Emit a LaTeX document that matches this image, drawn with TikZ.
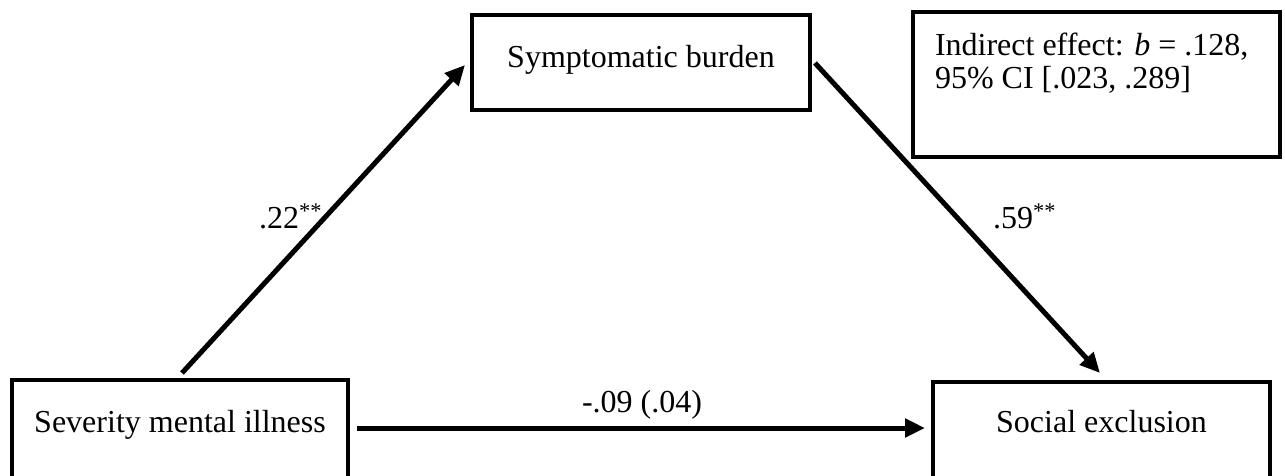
\documentclass[tikz,border=0pt]{standalone}
\usepackage{fontspec}
\setmainfont{Liberation Serif}
\usetikzlibrary{arrows.meta}
\begin{document}
\begin{tikzpicture}[x=1pt,y=-1pt,
  box/.style={draw, line width=4.5pt, inner sep=0pt, outer sep=0pt, font=\fontsize{32}{33}\selectfont},
  arr/.style={line width=5pt, -{Triangle[length=20pt,width=18pt]}},
  lbl/.style={font=\fontsize{32}{33}\selectfont, inner sep=0pt}]
\useasboundingbox (0,0) rectangle (1285,475);
\clip (0,0) rectangle (1285,475);
\fill[white] (0,0) rectangle (1285,475);
\node[box, anchor=north west, minimum width=336pt, text height=52pt, text depth=58pt] (sev) at (12,380) {Severity mental illness};
\node[box, anchor=north west, minimum width=338pt, text height=52pt, text depth=43pt] (sym) at (472,15) {Symptomatic burden};
\node[box, anchor=north west, minimum width=337pt, text height=50pt, text depth=58pt] (soc) at (933,382) {Social exclusion};
\node[box, anchor=north west, inner xsep=22pt, text height=43pt, text depth=102pt] (ind) at (913,12)
  {\vtop{\baselineskip=33pt\hbox to 323pt{Indirect effect: \textit{b} = .128,\hfil}\hbox to 323pt{95\% CI [.023, .289]\hfil}}};
\draw[arr] ([xshift=170pt,yshift=7pt]sev.north west) -- ([xshift=-7pt,yshift=-50pt]sym.north west);
\draw[arr] ([xshift=5pt,yshift=-48pt]sym.north east) -- ([xshift=-170pt,yshift=9pt]soc.north east);
\draw[arr] ([xshift=9pt,yshift=-48pt]sev.north east) -- ([xshift=-8pt,yshift=-46pt]soc.north west);
\node[lbl, anchor=base west] (l1) at (259,228) {.22\textsuperscript{**}};
\node[lbl, anchor=base west] (l2) at (993,228) {.59\textsuperscript{**}};
\node[lbl, anchor=base] (l3) at (642,412) {-.09 (.04)};
\end{tikzpicture}
\end{document}
